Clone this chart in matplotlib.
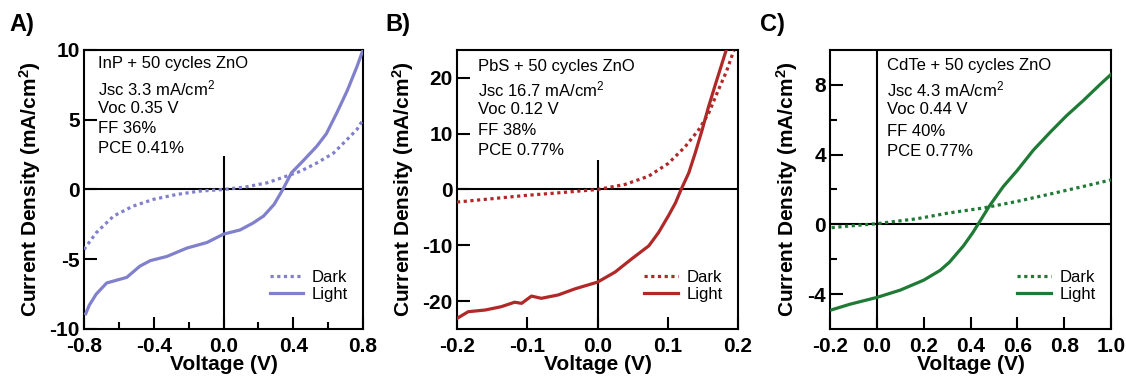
import matplotlib
matplotlib.use("Agg")
import matplotlib.pyplot as plt
from matplotlib.ticker import FormatStrFormatter

plt.rcParams['font.family'] = ['Liberation Sans', 'DejaVu Sans']
plt.rcParams['mathtext.fontset'] = 'custom'
plt.rcParams['mathtext.rm'] = 'Liberation Sans'
plt.rcParams['mathtext.default'] = 'regular'
plt.rcParams['axes.unicode_minus'] = False

# panel A: InP
a_light_v = [-0.79, -0.77, -0.73, -0.67, -0.555, -0.48, -0.42, -0.325, -0.21, -0.095, 0.0, 0.095,
             0.17, 0.23, 0.29, 0.34, 0.39, 0.46, 0.535, 0.59, 0.65, 0.71, 0.765, 0.8]
a_light_j = [-8.9, -8.3, -7.5, -6.7, -6.3, -5.5, -5.1, -4.8, -4.2, -3.8, -3.2, -2.9,
             -2.4, -1.9, -1.07, 0.0, 1.2, 2.1, 3.1, 4.0, 5.5, 7.1, 8.8, 10.0]
a_dark_v = [-0.8, -0.73, -0.63, -0.52, -0.4, -0.27, -0.14, 0.0, 0.13, 0.25, 0.36, 0.44,
            0.535, 0.63, 0.71, 0.765, 0.8]
a_dark_j = [-4.3, -3.1, -1.9, -1.2, -0.7, -0.36, -0.12, 0.0, 0.19, 0.48, 0.95, 1.3,
            1.9, 2.6, 3.6, 4.3, 5.0]

# panel B: PbS
b_light_v = [-0.2, -0.184, -0.16, -0.137, -0.118, -0.108, -0.094, -0.08, -0.056, -0.032, 0.0,
             0.025, 0.049, 0.073, 0.087, 0.101, 0.111, 0.119, 0.13, 0.139, 0.149, 0.158,
             0.168, 0.177, 0.183]
b_light_j = [-23.1, -21.9, -21.6, -21.0, -20.2, -20.4, -19.1, -19.5, -18.9, -17.8, -16.6,
             -14.8, -12.4, -10.1, -7.7, -4.7, -2.4, 0.0, 3.0, 6.5, 10.7, 14.8,
             18.9, 22.5, 24.9]
b_dark_v = [-0.2, -0.151, -0.103, -0.056, 0.0, 0.039, 0.073, 0.101, 0.125, 0.144, 0.158,
            0.172, 0.184, 0.194]
b_dark_j = [-2.25, -1.66, -1.07, -0.6, 0.0, 0.9, 2.4, 4.7, 7.7, 10.7, 13.6,
            17.8, 21.3, 24.9]

# panel C: CdTe
c_light_v = [-0.193, -0.115, 0.0, 0.1, 0.2, 0.27, 0.31, 0.37, 0.41, 0.445, 0.48, 0.54,
             0.6, 0.668, 0.74, 0.81, 0.88, 0.953, 1.0]
c_light_j = [-4.9, -4.58, -4.19, -3.77, -3.2, -2.64, -2.17, -1.23, -0.47, 0.28, 1.04, 2.17,
             3.1, 4.25, 5.28, 6.23, 7.08, 8.02, 8.6]
c_dark_v = [-0.193, -0.115, 0.0, 0.17, 0.31, 0.455, 0.6, 0.74, 0.88, 1.0]
c_dark_j = [-0.19, -0.09, 0.04, 0.32, 0.66, 0.94, 1.32, 1.74, 2.17, 2.55]

titles = ['InP + 50 cycles ZnO', 'PbS + 50 cycles ZnO', 'CdTe + 50 cycles ZnO']
jsc = ['3.3', '16.7', '4.3']
voc = ['0.35', '0.12', '0.44']
ff = ['36', '38', '40']
pce = ['0.41', '0.77', '0.77']
colors = ['#8080cc', '#b02828', '#1f7a35']
letters = ['A)', 'B)', 'C)']

fig = plt.figure(figsize=(11.26, 3.81), dpi=100)
lefts = [84, 457, 830]
widths = [279, 281, 281]
axes = [fig.add_axes([l / 1126, 52 / 381, w / 1126, 279 / 381]) for l, w in zip(lefts, widths)]

data = [(a_dark_v, a_dark_j, a_light_v, a_light_j),
        (b_dark_v, b_dark_j, b_light_v, b_light_j),
        (c_dark_v, c_dark_j, c_light_v, c_light_j)]
xlims = [(-0.8, 0.8), (-0.2, 0.2), (-0.2, 1.0)]
ylims = [(-10, 10), (-25, 25), (-6, 10)]
xmaj = [[-0.8, -0.4, 0.0, 0.4, 0.8], [-0.2, -0.1, 0.0, 0.1, 0.2], [-0.2, 0.0, 0.2, 0.4, 0.6, 0.8, 1.0]]
xmin = [[-0.6, -0.2, 0.2, 0.6], [], []]
ymaj = [[-10, -5, 0, 5, 10], [-20, -10, 0, 10, 20], [-4, 0, 4, 8]]
ymin = [[], [], [-2, 2, 6]]
vtop = [2.4, 5.3, 10]
text_x = [0.051, 0.074, 0.204]
text_y = [[0.952, 0.863, 0.791, 0.719, 0.648],
          [0.94, 0.859, 0.785, 0.71, 0.638],
          [0.943, 0.857, 0.785, 0.707, 0.636]]
letter_x = [9, 385, 760]

for i, ax in enumerate(axes):
    dv, dj, lv, lj = data[i]
    ax.axhline(0, color='black', lw=1.5, zorder=1)
    ax.vlines(0, ylims[i][0], vtop[i], color='black', lw=1.5, zorder=1)
    ax.plot(dv, dj, color=colors[i], lw=2.3, linestyle=(0, (1, 1.1)), label='Dark', zorder=3)
    ax.plot(lv, lj, color=colors[i], lw=2.3, label='Light', zorder=3)
    ax.set_xlim(*xlims[i])
    ax.set_ylim(*ylims[i])
    ax.set_xticks(xmaj[i])
    ax.set_xticks(xmin[i], minor=True)
    ax.set_yticks(ymaj[i])
    ax.set_yticks(ymin[i], minor=True)
    ax.xaxis.set_major_formatter(FormatStrFormatter('%.1f'))
    ax.yaxis.set_major_formatter(FormatStrFormatter('%d'))
    ax.tick_params(which='major', direction='in', length=9, width=1.5, labelsize=15)
    ax.tick_params(which='minor', direction='in', length=5, width=1.5)
    ax.tick_params(axis='x', pad=6)
    ax.tick_params(axis='y', pad=3)
    for lab in ax.get_xticklabels() + ax.get_yticklabels():
        lab.set_fontweight('bold')
    for s in ax.spines.values():
        s.set_linewidth(1.5)
    ax.set_xlabel('Voltage (V)', fontsize=15, fontweight='bold', labelpad=-1)
    ax.set_ylabel('Current Density (mA/cm$^2$)', fontsize=15, fontweight='bold', labelpad=5)

    lines = [titles[i], 'Jsc ' + jsc[i] + ' mA/cm$^2$', 'Voc ' + voc[i] + ' V',
             'FF ' + ff[i] + '%', 'PCE ' + pce[i] + '%']
    for t, y in zip(lines, text_y[i]):
        ax.text(text_x[i], y, t, transform=ax.transAxes, fontsize=12, va='center', ha='left')

    ax.legend(loc='lower right', bbox_to_anchor=(0.98, 0.06), frameon=False, fontsize=12,
              handlelength=2.0, handletextpad=0.5, labelspacing=0.15, borderaxespad=0.2)

    fig.text(letter_x[i] / 1126, 1 - 25 / 381, letters[i], fontsize=17, fontweight='bold',
             va='center', ha='left')

fig.savefig('out.png', dpi=100)
